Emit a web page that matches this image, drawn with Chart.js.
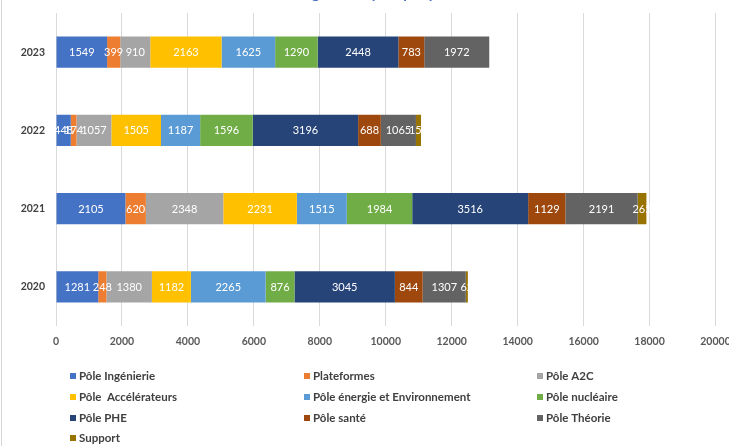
<!DOCTYPE html>
<html>
<head>
<meta charset="utf-8">
<script src="https://cdn.jsdelivr.net/npm/chart.js@4/dist/chart.umd.min.js"></script>
<style>
  html, body { margin: 0; padding: 0; background: #ffffff; }
  #wrap { width: 729px; height: 446px; position: relative; overflow: hidden; }
</style>
</head>
<body>
<div id="wrap"><canvas id="chart" width="729" height="446"></canvas></div>
<script>
// Years on the category axis (2020 drawn at the bottom)
const years = ['2020', '2021', '2022', '2023'];

// One value per year for each pôle
const poleIngenierie   = [1281, 2105, 448, 1549];
const plateformes      = [248, 620, 174, 399];
const poleA2C          = [1380, 2348, 1057, 910];
const poleAccelerateurs = [1182, 2231, 1505, 2163];
const poleEnergie      = [2265, 1515, 1187, 1625];
const poleNucleaire    = [876, 1984, 1596, 1290];
const polePHE          = [3045, 3516, 3196, 2448];
const poleSante        = [844, 1129, 688, 783];
const poleTheorie      = [1307, 2191, 1065, 1972];
const support          = [62, 265, 154, null];

const seriesNames = ['Pôle Ingénierie', 'Plateformes', 'Pôle A2C', 'Pôle  Accélérateurs',
  'Pôle énergie et Environnement', 'Pôle nucléaire', 'Pôle PHE', 'Pôle santé', 'Pôle Théorie', 'Support'];
const seriesValues = [poleIngenierie, plateformes, poleA2C, poleAccelerateurs,
  poleEnergie, poleNucleaire, polePHE, poleSante, poleTheorie, support];
const seriesColors = ['#4472C4', '#ED7D31', '#A5A5A5', '#FFC000',
  '#5B9BD5', '#70AD47', '#264478', '#9E480E', '#636363', '#997300'];

// Value axis range and step
const xMin = 0, xMax = 20000, xStep = 2000;

const titleText = 'Évolution des budgets analysés par pôle';
const FONT = 'Lato, "Liberation Sans", sans-serif';

// Thin frame line on the left edge and the heading running off the top
const framePlugin = {
  id: 'frame',
  beforeDraw(chart) {
    const ctx = chart.ctx;
    ctx.save();
    ctx.fillStyle = '#ffffff';
    ctx.fillRect(0, 0, chart.width, chart.height);
    ctx.strokeStyle = '#d6d6d6';
    ctx.lineWidth = 1;
    ctx.beginPath();
    ctx.moveTo(1.5, 0);
    ctx.lineTo(1.5, chart.height);
    ctx.stroke();
    ctx.fillStyle = '#4472C4';
    ctx.font = 'bold 13px ' + FONT;
    const w = ctx.measureText(titleText).width;
    const size = 13 * 265 / w;
    ctx.font = 'bold ' + size.toFixed(2) + 'px ' + FONT;
    ctx.textAlign = 'center';
    ctx.textBaseline = 'alphabetic';
    ctx.fillText(titleText, 325, -2);
    ctx.restore();
  }
};

// White value labels centred on each segment
const valueLabels = {
  id: 'valueLabels',
  afterDatasetsDraw(chart) {
    const ctx = chart.ctx;
    ctx.save();
    ctx.font = '11px ' + FONT;
    ctx.fillStyle = '#ffffff';
    ctx.textAlign = 'center';
    ctx.textBaseline = 'middle';
    chart.data.datasets.forEach((ds, i) => {
      const meta = chart.getDatasetMeta(i);
      if (meta.hidden) return;
      meta.data.forEach((el, j) => {
        const v = ds.data[j];
        if (v === null || v === undefined) return;
        const p = el.getProps(['x', 'y', 'base'], true);
        ctx.fillText(String(v), (p.x + p.base) / 2, p.y + 0.5);
      });
    });
    ctx.restore();
  }
};

// Legend laid out as a three-column grid under the axis
const gridLegend = {
  id: 'gridLegend',
  afterDraw(chart) {
    const ctx = chart.ctx;
    const colX = [70, 304, 537];
    const rowY = [376, 397, 418, 438];
    ctx.save();
    ctx.font = 'bold 11.5px ' + FONT;
    ctx.textAlign = 'left';
    ctx.textBaseline = 'middle';
    chart.data.datasets.forEach((ds, i) => {
      const x = colX[i % 3];
      const y = rowY[Math.floor(i / 3)];
      ctx.fillStyle = ds.backgroundColor;
      ctx.fillRect(x, y - 3, 6, 6);
      ctx.fillStyle = '#404040';
      ctx.fillText(ds.label, x + 9, y + 0.5);
    });
    ctx.restore();
  }
};

const datasets = seriesNames.map((name, i) => ({
  label: name,
  data: seriesValues[i],
  backgroundColor: seriesColors[i],
  borderWidth: 0,
  categoryPercentage: 0.8,
  barPercentage: 0.5
}));

new Chart(document.getElementById('chart'), {
  type: 'bar',
  data: { labels: years, datasets },
  options: {
    indexAxis: 'y',
    responsive: false,
    animation: false,
    devicePixelRatio: 1,
    layout: { padding: { top: 13, right: 13.5, bottom: 90, left: 0 } },
    plugins: {
      legend: { display: false },
      title: { display: false },
      tooltip: { enabled: false }
    },
    scales: {
      x: {
        stacked: true,
        min: xMin,
        max: xMax,
        border: { display: false },
        grid: { color: '#d9d9d9', lineWidth: 1, drawTicks: false },
        ticks: {
          stepSize: xStep,
          padding: 9,
          color: '#595959',
          font: { family: FONT, size: 10.5, weight: 'bold' },
          maxRotation: 0,
          callback: (v) => String(v)
        },
        afterFit(s) {
          s.height = 30;
          s.paddingLeft = 0; s.paddingRight = 0; s.paddingTop = 0; s.paddingBottom = 0;
        }
      },
      y: {
        stacked: true,
        reverse: true,
        border: { display: false },
        grid: { display: false, drawTicks: false },
        ticks: {
          padding: 11,
          color: '#404040',
          font: { family: FONT, size: 10.5, weight: 'bold' }
        },
        afterFit(s) {
          s.width = 56;
          s.paddingLeft = 0; s.paddingRight = 0; s.paddingTop = 0; s.paddingBottom = 0;
        }
      }
    }
  },
  plugins: [framePlugin, valueLabels, gridLegend]
});
</script>
</body>
</html>
